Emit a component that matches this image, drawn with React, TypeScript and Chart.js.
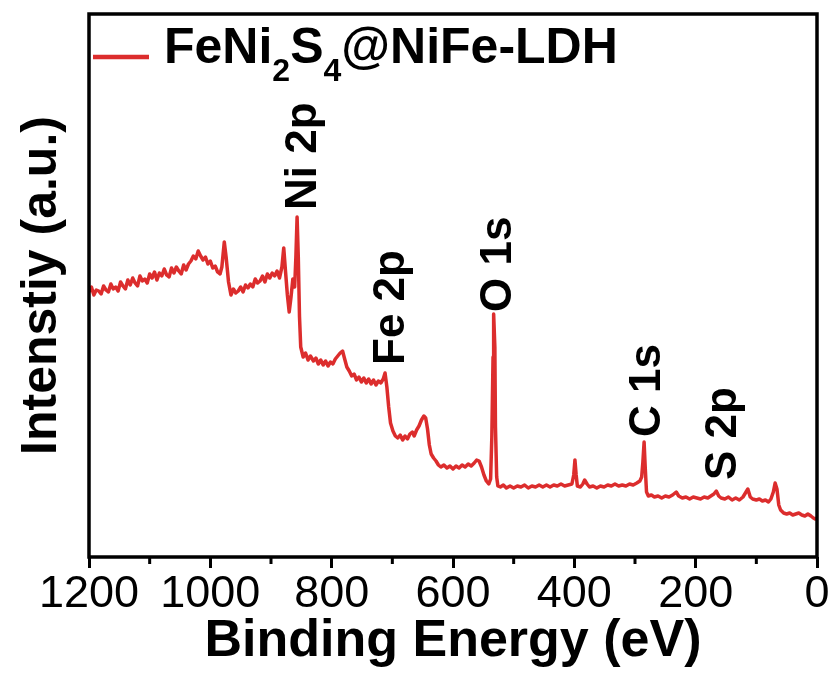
import React, { useEffect, useRef } from 'react';
import { Chart, registerables } from 'chart.js';

Chart.register(...registerables);

// Binding energy (eV) of each sampled point, high -> low
const energies = [
  1200, 1196, 1192, 1188, 1184, 1180, 1176, 1172, 1168, 1164, 1160, 1156, 1152, 1148, 1144, 1140,
  1136, 1132, 1128, 1124, 1120, 1116, 1112, 1108, 1104, 1100, 1096, 1092, 1088, 1084, 1080, 1076,
  1072, 1068, 1064, 1060, 1056, 1052, 1048, 1044, 1040, 1036, 1032, 1028, 1024, 1020, 1016, 1012,
  1008, 1004, 1000, 996, 992, 988, 984, 981, 977, 974, 970,
  966, 962, 958, 954, 950, 946, 942, 938, 934, 930, 926, 922, 918, 914, 910, 906, 902, 898, 894, 890, 886,
  882, 879, 876, 873, 870, 867, 864, 861, 859, 857, 855, 853, 851, 847, 843,
  839, 835, 830, 826, 822, 818, 814, 810, 806, 802, 798, 794, 790, 786, 782, 779,
  775, 771, 767, 763, 759, 755, 751, 747, 743, 739, 735, 731, 727, 723, 719, 715,
  712, 709, 706, 703, 699, 695, 691, 687, 683, 679, 675, 671, 667, 664, 660, 656,
  652, 648, 645, 642, 639, 636, 632, 628, 624, 620, 615, 610, 605, 600, 595, 590,
  585, 580, 575, 570, 565, 561, 557, 553, 549, 545, 541, 538, 536, 534, 533, 531,
  530, 528, 526, 522, 517, 512, 506, 500, 494, 488, 482, 476, 470, 464, 458, 452,
  446, 440, 434, 428, 422, 416, 410, 404, 401, 399, 397, 395, 390, 386, 383, 379,
  375, 369, 363, 357, 351, 345, 339, 333, 327, 321, 315, 309, 303, 297, 292, 289,
  287, 285, 283, 281, 278, 273, 268, 262, 256, 250, 244, 238, 232, 228, 222, 216,
  210, 204, 198, 192, 186, 180, 175, 170, 166, 162, 158, 152, 146, 140, 134, 128,
  122, 118, 114, 110, 106, 100, 95, 90, 85, 80, 76, 72, 69, 66, 63, 60,
  55, 50, 45, 40, 35, 30, 25, 20, 15, 10, 6, 3, 0,
];

// Intensity (a.u.) at each energy above
const intensities = [
  265, 270, 262, 267, 266, 263, 271, 267, 265, 273, 268, 270, 266, 275, 271, 268,
  277, 272, 279, 274, 271, 281, 276, 278, 274, 283, 279, 285, 277, 284, 281, 288,
  282, 280, 289, 284, 290, 286, 283, 292, 287, 293, 296, 301, 298, 306, 301, 297,
  300, 293, 296, 289, 291, 285, 283, 290, 315, 300, 275,
  262, 268, 264, 266, 270, 265, 272, 269, 273, 270, 278, 274, 276, 281, 275, 283, 279, 284, 281, 286, 279,
  290, 309, 285, 262, 245, 260, 278, 270, 300, 340, 300, 240, 210, 200, 204,
  197, 201, 196, 199, 193, 197, 192, 196, 191, 195, 193, 198, 201, 204, 206, 199,
  190, 186, 181, 183, 177, 180, 175, 179, 174, 178, 173, 177, 172, 176, 174, 178,
  184, 170, 150, 134, 126, 121, 119, 122, 117, 121, 118, 123, 125, 121, 127, 131,
  137, 141, 139, 128, 112, 103, 99, 96, 92, 90, 92, 89, 91, 88, 91, 89,
  92, 90, 93, 91, 94, 97, 96, 90, 82, 76, 73, 78, 120, 200, 243, 210,
  130, 80, 71, 70, 72, 69, 71, 69, 71, 70, 72, 69, 71, 70, 72, 70,
  72, 70, 72, 71, 73, 71, 72, 73, 82, 97, 82, 71, 70, 73, 77, 73,
  70, 71, 69, 71, 70, 72, 71, 73, 71, 72, 71, 73, 72, 74, 76, 80,
  95, 115, 88, 65, 61, 62, 60, 61, 59, 61, 60, 62, 65, 61, 59, 60,
  58, 60, 59, 58, 60, 59, 61, 63, 66, 61, 59, 58, 60, 57, 59, 57,
  60, 64, 68, 60, 58, 57, 58, 56, 57, 55, 58, 65, 74, 68, 52, 47,
  44, 43, 44, 42, 43, 44, 42, 41, 43, 41, 39, 38, 39,
];

const seriesName = 'FeNi2S4@NiFe-LDH';
const minorTicks = [1100, 900, 700, 500, 300, 100];
const peakLabels = ['Ni 2p', 'Fe 2p', 'O 1s', 'C 1s', 'S 2p'];
const peakEnergies = [852, 707, 531, 284, 160];
const peakLabelBase = [347, 192, 245, 120, 77];

const RED = '#dc2d2d';
const FONT = '"Liberation Sans", Arial, Helvetica, sans-serif';

const overlayPlugin = {
  id: 'overlay',
  afterDraw(chart: any) {
    const { ctx, chartArea } = chart;
    const xs = chart.scales.x;
    const ys = chart.scales.y;
    ctx.save();
    // frame
    ctx.strokeStyle = '#000';
    ctx.lineWidth = 3.5;
    ctx.strokeRect(chartArea.left, chartArea.top, chartArea.right - chartArea.left, chartArea.bottom - chartArea.top);
    // minor ticks
    ctx.lineWidth = 3;
    minorTicks.forEach((v) => {
      const x = xs.getPixelForValue(v);
      ctx.beginPath();
      ctx.moveTo(x, chartArea.bottom);
      ctx.lineTo(x, chartArea.bottom + 7);
      ctx.stroke();
    });
    // peak labels
    ctx.fillStyle = '#000';
    ctx.font = `bold 44px ${FONT}`;
    ctx.textAlign = 'left';
    ctx.textBaseline = 'alphabetic';
    peakLabels.forEach((lab, i) => {
      const x = xs.getPixelForValue(peakEnergies[i]);
      const y = ys.getPixelForValue(peakLabelBase[i]);
      ctx.save();
      ctx.translate(x + 0.358 * 44, y);
      ctx.rotate(-Math.PI / 2);
      ctx.fillText(lab, 0, 0);
      ctx.restore();
    });
    // legend
    ctx.strokeStyle = RED;
    ctx.lineWidth = 4.5;
    ctx.beginPath();
    ctx.moveTo(chartArea.left + 4, 57);
    ctx.lineTo(chartArea.left + 60, 57);
    ctx.stroke();
    const parts: [string, boolean][] = [
      ['FeNi', false], ['2', true], ['S', false], ['4', true], ['@NiFe-LDH', false],
    ];
    let tx = chartArea.left + 75;
    parts.forEach(([t, sub]) => {
      ctx.font = sub ? `bold 32px ${FONT}` : `bold 50px ${FONT}`;
      ctx.fillText(t, tx, sub ? 81 : 63);
      tx += ctx.measureText(t).width;
    });
    // axis titles
    ctx.font = `bold 52px ${FONT}`;
    ctx.textAlign = 'center';
    ctx.fillText('Binding Energy (eV)', (chartArea.left + chartArea.right) / 2, 656);
    ctx.save();
    ctx.font = `bold 50px ${FONT}`;
    ctx.translate(56, (chartArea.top + chartArea.bottom) / 2);
    ctx.rotate(-Math.PI / 2);
    ctx.fillText('Intenstiy (a.u.)', 0, 0);
    ctx.restore();
    ctx.restore();
  },
};

export default function App() {
  const ref = useRef<HTMLCanvasElement | null>(null);
  useEffect(() => {
    if (!ref.current) return;
    Chart.defaults.font.family = FONT;
    const chart = new Chart(ref.current, {
      type: 'line',
      data: {
        datasets: [
          {
            label: seriesName,
            data: energies.map((e, i) => ({ x: e, y: intensities[i] })),
            borderColor: RED,
            backgroundColor: RED,
            borderWidth: 3.5,
            borderJoinStyle: 'round',
            pointRadius: 0,
            tension: 0,
          },
        ],
      },
      options: {
        animation: false,
        responsive: true,
        maintainAspectRatio: false,
        layout: { padding: { left: 0, right: 19, top: 14, bottom: 0 } },
        plugins: { legend: { display: false }, tooltip: { enabled: false } },
        scales: {
          x: {
            type: 'linear',
            reverse: true,
            min: 0,
            max: 1200,
            ticks: {
              stepSize: 200,
              color: '#000',
              font: { size: 45 },
              padding: 0,
              callback: (v: any) => String(v),
            },
            grid: { drawOnChartArea: false, drawTicks: true, tickLength: 11, tickWidth: 3, tickColor: '#000' },
            border: { display: false },
            afterFit: (s: any) => { s.height = 124; },
          },
          y: {
            type: 'linear',
            min: 0,
            max: 543,
            ticks: { display: false },
            grid: { display: false, drawTicks: false },
            border: { display: false },
            afterFit: (s: any) => { s.width = 89; },
          },
        },
      },
      plugins: [overlayPlugin],
    } as any);
    return () => chart.destroy();
  }, []);
  return (
    <div style={{ position: 'fixed', left: 0, top: 0, width: 836, height: 681, background: '#fff' }}>
      <canvas ref={ref} />
    </div>
  );
}
